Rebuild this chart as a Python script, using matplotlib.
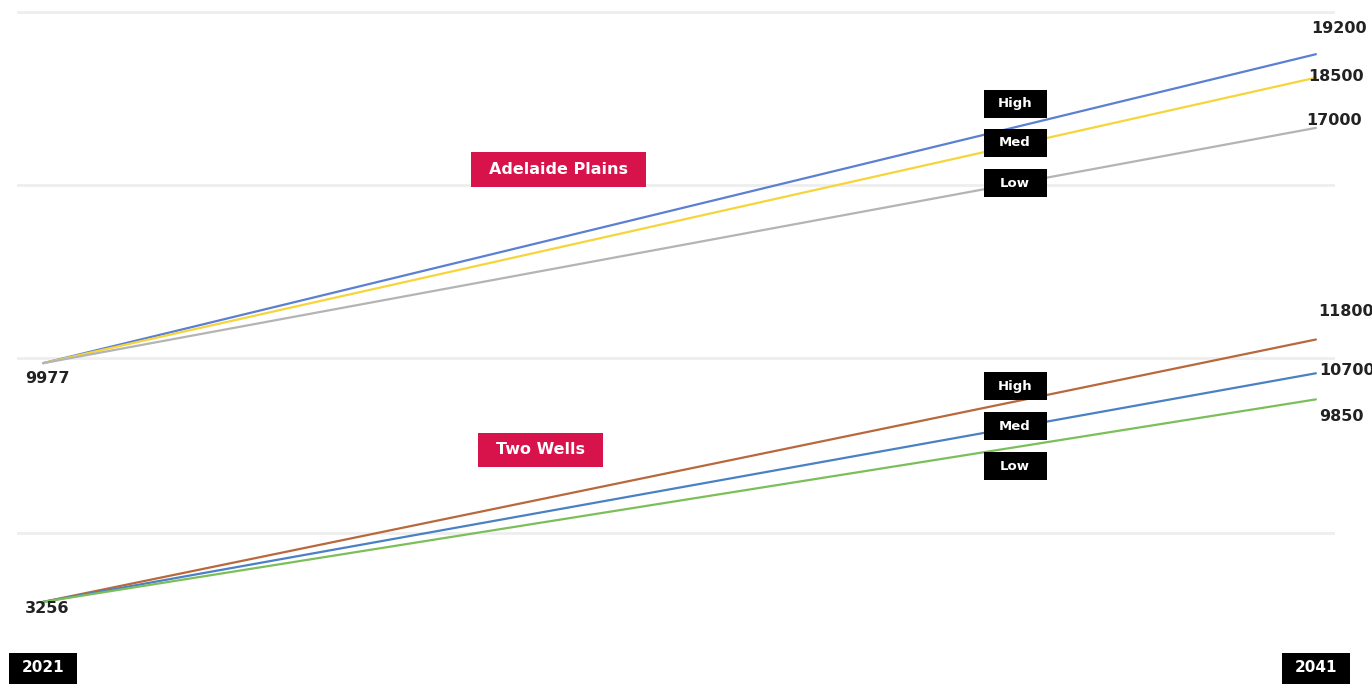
import matplotlib.pyplot as plt
import matplotlib.transforms as mtransforms
from matplotlib.patches import Rectangle

years = [2021, 2041]

# Adelaide Plains projections
ap_high = [9977, 19200]
ap_med = [9977, 18500]
ap_low = [9977, 17000]

# Two Wells projections
tw_high = [3256, 11800]
tw_med = [3256, 10700]
tw_low = [3256, 9850]

scenario_names = ["High", "Med", "Low"]

ap_colors = ["#5b7fd1", "#f5d53a", "#b4b4b4"]
tw_colors = ["#b8683c", "#4a80c4", "#7cbf5a"]
RED = "#d8124a"
TXT = "#222222"

plt.rcParams["font.family"] = ["DejaVu Sans"]

W, H = 1372, 684
fig = plt.figure(figsize=(W / 100, H / 100), dpi=100)
rect = [17 / W, 0, 1318 / W, 1]
# the two groups are drawn on their own vertical scales, as in the original graphic
ax_top = fig.add_axes(rect)
ax_bot = fig.add_axes(rect)
ax_top.set_ylim(400, 20818)
ax_bot.set_ylim(582, 22855)
for ax in (ax_top, ax_bot):
    ax.set_xlim(2020.59, 2041.3)
    ax.axis("off")
ax_bot.patch.set_alpha(0)

# faint horizontal guides
for ypx in [12, 185, 358, 533]:
    ax_top.plot([0, 1], [1 - ypx / H] * 2, transform=ax_top.transAxes,
                color="#eeeeee", lw=2, zorder=0)


def draw_group(ax, group, colors, end_offsets, start_offset):
    for vals, col, off in zip(group, colors, end_offsets):
        ax.plot(years, vals, color=col, lw=1.6, solid_capstyle="round", zorder=2)
        ax.annotate(f"{vals[-1]}", (years[-1], vals[-1]), xytext=off,
                    textcoords="offset points", ha="left", va="center",
                    fontsize=11.5, fontweight="bold", color=TXT)
    ax.annotate(f"{group[0][0]}", (years[0], group[0][0]), xytext=start_offset,
                textcoords="offset points", ha="center", va="center",
                fontsize=11.5, fontweight="bold", color=TXT)


draw_group(ax_top, [ap_high, ap_med, ap_low], ap_colors,
           [(-3.6, 18.7), (-5.8, 0.7), (-7.2, 5)], (2.9, -10.8))
draw_group(ax_bot, [tw_high, tw_med, tw_low], tw_colors,
           [(1.4, 19.8), (2.2, 2.2), (2.2, -12.2)], (2.9, -5))


def tag(ax, xc, yc, w, h, text, fc, size, trans=None):
    # box of fixed pixel size centred on (xc, yc)
    trans = trans or ax.transAxes
    ax.add_patch(Rectangle((xc - w / 2, yc - h / 2), w, h, transform=trans,
                           facecolor=fc, edgecolor="none", zorder=5, clip_on=False))
    ax.text(xc, yc, text, transform=trans, ha="center", va="center",
            fontsize=size, fontweight="bold", color="white", zorder=6)


ax = ax_bot
bw, bh = 63 / 1318, 28 / H
for ys in [(104, 143, 183), (386, 426, 466)]:
    for name, ypx in zip(scenario_names, ys):
        tag(ax, (1015 - 17) / 1318, 1 - ypx / H, bw, bh, name, "black", 9.5)

tag(ax, (558.5 - 17) / 1318, 1 - 169.5 / H, 175 / 1318, 35 / H,
    "Adelaide Plains", RED, 11.5)
tag(ax, (540.5 - 17) / 1318, 1 - 449.5 / H, 125 / 1318, 34 / H,
    "Two Wells", RED, 11.5)

# year tags at the bottom
trans = mtransforms.blended_transform_factory(ax.transData, ax.transAxes)
for yr in years:
    x0 = yr - 0.08 if yr == years[0] else yr
    ax.add_patch(Rectangle((yr - 34 / 63.65, -0.02), 68 / 63.65, (684 - 653) / H + 0.02,
                           transform=trans, facecolor="black", edgecolor="none",
                           zorder=5, clip_on=False))
    ax.text(yr, 1 - 668 / H, str(yr), transform=trans, ha="center", va="center",
            fontsize=11, fontweight="bold", color="white", zorder=6)

fig.savefig("out.png", dpi=100, facecolor="white")
